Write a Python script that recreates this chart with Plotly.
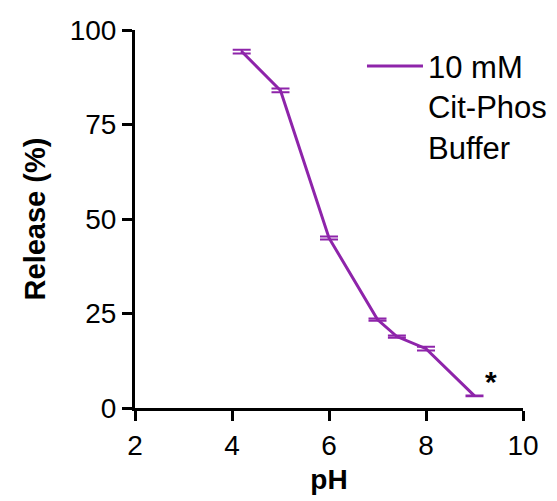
import plotly.graph_objects as go

ph = [4.2, 5.0, 6.0, 7.0, 7.4, 8.0, 9.0]
release = [94.3, 84.0, 45.0, 23.4, 18.9, 15.7, 3.2]
release_err = [0.5, 0.5, 0.4, 0.3, 0.3, 0.5, 0.1]
series_name = "10 mM<br>Cit-Phos<br>Buffer"
star_x = [9.33]
star_y = [7.0]

purple = "#8E24AA"
font_family = "Liberation Sans, Arial, Helvetica, sans-serif"

fig = go.Figure()
fig.add_trace(go.Scatter(
    x=ph, y=release, mode="lines", name=series_name,
    line=dict(color=purple, width=3),
    error_y=dict(type="data", array=release_err, visible=True,
                 color=purple, thickness=2, width=9),
    cliponaxis=False,
))

fig.add_annotation(x=star_x[0], y=star_y[0], text="<b>*</b>", showarrow=False,
                   font=dict(size=30, color="black", family=font_family))

fig.update_layout(
    width=557, height=501,
    margin=dict(l=127, r=42, t=22, b=101, autoexpand=False),
    paper_bgcolor="white", plot_bgcolor="white",
    font=dict(family=font_family, color="black", size=28),
    showlegend=True,
    legend=dict(x=0.585, y=0.975, xanchor="left", yanchor="top",
                font=dict(size=31, family=font_family, color="black"),
                bgcolor="rgba(0,0,0,0)", valign="top", tracegroupgap=0,
                itemwidth=56),
    xaxis=dict(range=[2, 10], tickvals=[2, 4, 6, 8, 10], showgrid=False, zeroline=False,
               showline=True, linecolor="black", linewidth=3, automargin=False,
               ticks="outside", ticklen=10, tickwidth=3, tickcolor="black",
               tickfont=dict(size=28),
               title=dict(text="<b>pH</b>", font=dict(size=28), standoff=10)),
    yaxis=dict(range=[0, 100], tickvals=[0, 25, 50, 75, 100], showgrid=False, zeroline=False,
               showline=True, linecolor="black", linewidth=3, automargin=False,
               ticks="outside", ticklen=10, tickwidth=3, tickcolor="black",
               tickfont=dict(size=28),
               title=dict(text="<b>Release (%)</b>", font=dict(size=29), standoff=16)),
)

fig.write_html("out.html")
